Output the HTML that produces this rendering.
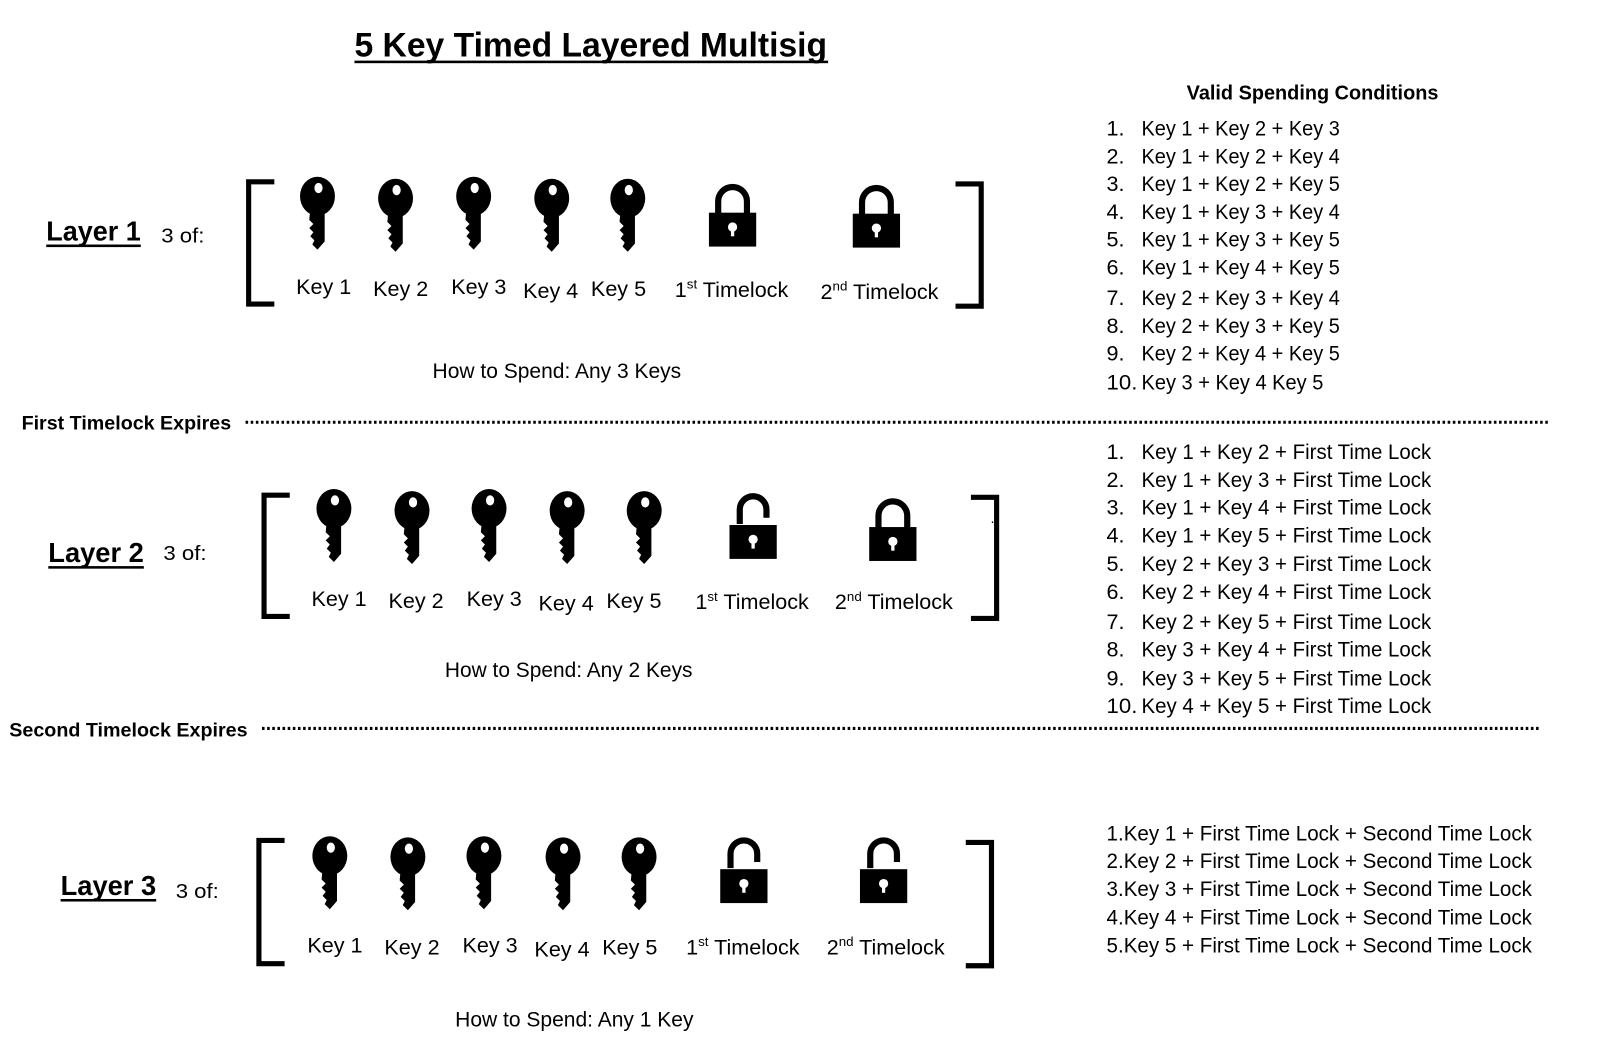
<!DOCTYPE html>
<html><head><meta charset="utf-8"><style>
html,body{margin:0;padding:0;background:#fff;}
svg{display:block;}
text{font-family:"Liberation Sans",sans-serif;fill:#000;}
</style></head><body>
<svg width="1610" height="1050" viewBox="0 0 1567 1022" preserveAspectRatio="none" xmlns="http://www.w3.org/2000/svg">
<defs>
<g id="key">
<ellipse cx="0" cy="18" rx="17" ry="19"/>
<path d="M -7 30 L 7 30 L 7 62 L 0 70 L -5 65 L -3 61 L -7 57 L -4 53 L -8 49 L -4 45 L -8 41 L -7 30 Z"/>
<ellipse cx="1" cy="10" rx="4" ry="5" fill="#fff"/>
</g>
<g id="lockc">
<path d="M -14 26 V 14 A 14 14 0 0 1 14 14 V 26" fill="none" stroke="#000" stroke-width="6"/>
<rect x="-23" y="25" width="46" height="33"/>
<circle cx="0" cy="39" r="4.5" fill="#fff"/>
<rect x="-1.6" y="39" width="3.2" height="9" fill="#fff"/>
</g>
<g id="locko">
<path d="M -13 26 V 12 A 13 13 0 0 1 13 12 V 20" fill="none" stroke="#000" stroke-width="6"/>
<rect x="-23" y="27" width="46" height="33"/>
<circle cx="0" cy="41" r="4.5" fill="#fff"/>
<rect x="-1.6" y="41" width="3.2" height="9" fill="#fff"/>
</g>
</defs>

<text x="345" y="55" font-size="33" font-weight="bold" textLength="460" lengthAdjust="spacingAndGlyphs">5 Key Timed Layered Multisig</text>
<rect x="345" y="59" width="461" height="2.5"/>

<text x="1155" y="97" font-size="20" font-weight="bold" textLength="245" lengthAdjust="spacingAndGlyphs">Valid Spending Conditions</text>

<g font-size="21">
<text x="1077" y="132">1.</text><text x="1111" y="132" textLength="193" lengthAdjust="spacingAndGlyphs">Key 1 + Key 2 + Key 3</text>
<text x="1077" y="159">2.</text><text x="1111" y="159" textLength="193" lengthAdjust="spacingAndGlyphs">Key 1 + Key 2 + Key 4</text>
<text x="1077" y="186">3.</text><text x="1111" y="186" textLength="193" lengthAdjust="spacingAndGlyphs">Key 1 + Key 2 + Key 5</text>
<text x="1077" y="213">4.</text><text x="1111" y="213" textLength="193" lengthAdjust="spacingAndGlyphs">Key 1 + Key 3 + Key 4</text>
<text x="1077" y="240">5.</text><text x="1111" y="240" textLength="193" lengthAdjust="spacingAndGlyphs">Key 1 + Key 3 + Key 5</text>
<text x="1077" y="267">6.</text><text x="1111" y="267" textLength="193" lengthAdjust="spacingAndGlyphs">Key 1 + Key 4 + Key 5</text>
<text x="1077" y="297">7.</text><text x="1111" y="297" textLength="193" lengthAdjust="spacingAndGlyphs">Key 2 + Key 3 + Key 4</text>
<text x="1077" y="324">8.</text><text x="1111" y="324" textLength="193" lengthAdjust="spacingAndGlyphs">Key 2 + Key 3 + Key 5</text>
<text x="1077" y="351">9.</text><text x="1111" y="351" textLength="193" lengthAdjust="spacingAndGlyphs">Key 2 + Key 4 + Key 5</text>
<text x="1077" y="379" textLength="30" lengthAdjust="spacingAndGlyphs">10.</text><text x="1111" y="379" textLength="177" lengthAdjust="spacingAndGlyphs">Key 3 + Key 4 Key 5</text>
</g>

<g font-size="21">
<text x="1077" y="447">1.</text><text x="1111" y="447" textLength="282" lengthAdjust="spacingAndGlyphs">Key 1 + Key 2 + First Time Lock</text>
<text x="1077" y="474">2.</text><text x="1111" y="474" textLength="282" lengthAdjust="spacingAndGlyphs">Key 1 + Key 3 + First Time Lock</text>
<text x="1077" y="501">3.</text><text x="1111" y="501" textLength="282" lengthAdjust="spacingAndGlyphs">Key 1 + Key 4 + First Time Lock</text>
<text x="1077" y="528">4.</text><text x="1111" y="528" textLength="282" lengthAdjust="spacingAndGlyphs">Key 1 + Key 5 + First Time Lock</text>
<text x="1077" y="556">5.</text><text x="1111" y="556" textLength="282" lengthAdjust="spacingAndGlyphs">Key 2 + Key 3 + First Time Lock</text>
<text x="1077" y="583">6.</text><text x="1111" y="583" textLength="282" lengthAdjust="spacingAndGlyphs">Key 2 + Key 4 + First Time Lock</text>
<text x="1077" y="612">7.</text><text x="1111" y="612" textLength="282" lengthAdjust="spacingAndGlyphs">Key 2 + Key 5 + First Time Lock</text>
<text x="1077" y="639">8.</text><text x="1111" y="639" textLength="282" lengthAdjust="spacingAndGlyphs">Key 3 + Key 4 + First Time Lock</text>
<text x="1077" y="667">9.</text><text x="1111" y="667" textLength="282" lengthAdjust="spacingAndGlyphs">Key 3 + Key 5 + First Time Lock</text>
<text x="1077" y="694" textLength="30" lengthAdjust="spacingAndGlyphs">10.</text><text x="1111" y="694" textLength="282" lengthAdjust="spacingAndGlyphs">Key 4 + Key 5 + First Time Lock</text>
</g>

<g font-size="21">
<text x="1077" y="818" textLength="414" lengthAdjust="spacingAndGlyphs">1.Key 1 + First Time Lock + Second Time Lock</text>
<text x="1077" y="845" textLength="414" lengthAdjust="spacingAndGlyphs">2.Key 2 + First Time Lock + Second Time Lock</text>
<text x="1077" y="872" textLength="414" lengthAdjust="spacingAndGlyphs">3.Key 3 + First Time Lock + Second Time Lock</text>
<text x="1077" y="900" textLength="414" lengthAdjust="spacingAndGlyphs">4.Key 4 + First Time Lock + Second Time Lock</text>
<text x="1077" y="927" textLength="414" lengthAdjust="spacingAndGlyphs">5.Key 5 + First Time Lock + Second Time Lock</text>
</g>

<text x="45" y="234" font-size="27" font-weight="bold" textLength="92" lengthAdjust="spacingAndGlyphs">Layer 1</text>
<rect x="45" y="238" width="92" height="2.5"/>
<text x="157" y="236" font-size="20" textLength="42" lengthAdjust="spacingAndGlyphs">3 of:</text>

<text x="47" y="547" font-size="27" font-weight="bold" textLength="93" lengthAdjust="spacingAndGlyphs">Layer 2</text>
<rect x="47" y="551" width="93" height="2.5"/>
<text x="159" y="545" font-size="20" textLength="42" lengthAdjust="spacingAndGlyphs">3 of:</text>

<text x="59" y="871" font-size="27" font-weight="bold" textLength="93" lengthAdjust="spacingAndGlyphs">Layer 3</text>
<rect x="59" y="875" width="93" height="2.5"/>
<text x="171" y="874" font-size="20" textLength="42" lengthAdjust="spacingAndGlyphs">3 of:</text>

<g fill="none" stroke="#000" stroke-width="5">
<path d="M 267 177 H 242 V 296 H 267"/>
<path d="M 930 179 H 955 V 298 H 930"/>
<path d="M 282 482 H 257 V 600 H 282"/>
<path d="M 945 484 H 970 V 602 H 945"/>
<path d="M 277 818 H 252 V 938 H 277"/>
<path d="M 940 820 H 965 V 940 H 940"/>
</g>
<text x="964" y="509" font-size="14">..</text>

<use href="#key" x="309" y="173"/>
<use href="#key" x="385" y="175"/>
<use href="#key" x="461" y="173"/>
<use href="#key" x="537" y="175"/>
<use href="#key" x="611" y="175"/>
<use href="#lockc" x="713" y="182"/>
<use href="#lockc" x="853" y="183"/>

<use href="#key" x="325" y="477"/>
<use href="#key" x="401" y="479"/>
<use href="#key" x="476" y="477"/>
<use href="#key" x="552" y="479"/>
<use href="#key" x="627" y="479"/>
<use href="#locko" x="733" y="484"/>
<use href="#lockc" x="869" y="488"/>

<use href="#key" x="321" y="815"/>
<use href="#key" x="397" y="816"/>
<use href="#key" x="471" y="815"/>
<use href="#key" x="548" y="816"/>
<use href="#key" x="622" y="816"/>
<use href="#locko" x="724" y="819"/>
<use href="#locko" x="860" y="819"/>

<g font-size="21" text-anchor="middle">
<text x="315" y="286">Key 1</text>
<text x="390" y="288">Key 2</text>
<text x="466" y="286">Key 3</text>
<text x="536" y="290">Key 4</text>
<text x="602" y="288">Key 5</text>
<text x="712" y="289">1<tspan font-size="13" dy="-8">st</tspan><tspan dy="8"> Timelock</tspan></text>
<text x="856" y="291">2<tspan font-size="13" dy="-8">nd</tspan><tspan dy="8"> Timelock</tspan></text>

<text x="330" y="590">Key 1</text>
<text x="405" y="592">Key 2</text>
<text x="481" y="590">Key 3</text>
<text x="551" y="594">Key 4</text>
<text x="617" y="592">Key 5</text>
<text x="732" y="593">1<tspan font-size="13" dy="-8">st</tspan><tspan dy="8"> Timelock</tspan></text>
<text x="870" y="593">2<tspan font-size="13" dy="-8">nd</tspan><tspan dy="8"> Timelock</tspan></text>

<text x="326" y="927">Key 1</text>
<text x="401" y="929">Key 2</text>
<text x="477" y="927">Key 3</text>
<text x="547" y="931">Key 4</text>
<text x="613" y="929">Key 5</text>
<text x="723" y="929">1<tspan font-size="13" dy="-8">st</tspan><tspan dy="8"> Timelock</tspan></text>
<text x="862" y="929">2<tspan font-size="13" dy="-8">nd</tspan><tspan dy="8"> Timelock</tspan></text>
</g>

<g font-size="21">
<text x="421" y="368" textLength="242" lengthAdjust="spacingAndGlyphs">How to Spend: Any 3 Keys</text>
<text x="433" y="659" textLength="241" lengthAdjust="spacingAndGlyphs">How to Spend: Any 2 Keys</text>
<text x="443" y="999" textLength="232" lengthAdjust="spacingAndGlyphs">How to Spend: Any 1 Key</text>
</g>

<text x="21" y="418" font-size="19" font-weight="bold" textLength="204" lengthAdjust="spacingAndGlyphs">First Timelock Expires</text>
<line x1="239" y1="411" x2="1508" y2="411" stroke="#000" stroke-width="3" stroke-dasharray="2.5 2.5"/>
<text x="9" y="717" font-size="19" font-weight="bold" textLength="232" lengthAdjust="spacingAndGlyphs">Second Timelock Expires</text>
<line x1="255" y1="709" x2="1498" y2="709" stroke="#000" stroke-width="3" stroke-dasharray="2.5 2.5"/>
</svg>
</body></html>
